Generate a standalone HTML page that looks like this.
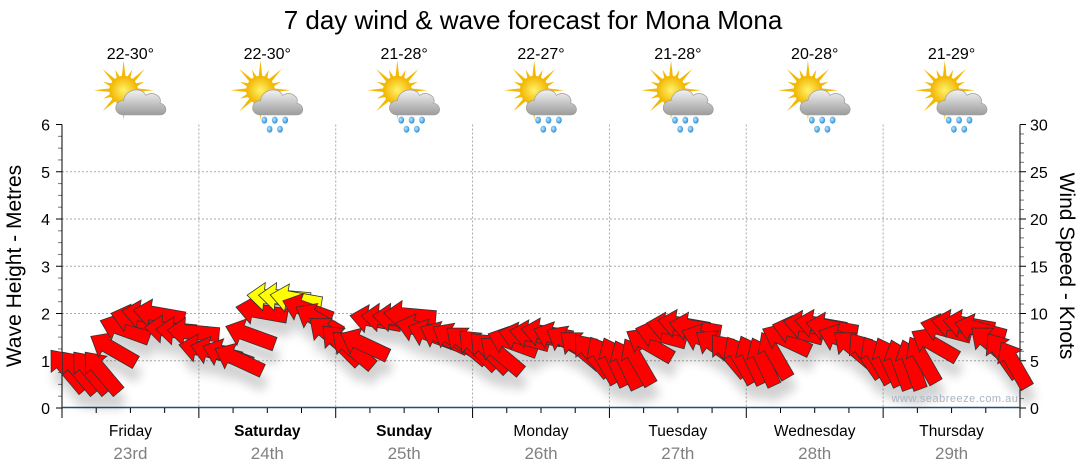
<!DOCTYPE html>
<html><head><meta charset="utf-8"><style>
body{margin:0;background:#fff;width:1080px;height:475px;overflow:hidden;font-family:"Liberation Sans","DejaVu Sans",sans-serif}
svg{display:block}
</style></head><body>
<svg id="chart" width="1080" height="475" viewBox="0 0 1080 475" xmlns="http://www.w3.org/2000/svg">
<defs>
<filter id="sh" x="-50%" y="-50%" width="200%" height="250%"><feGaussianBlur in="SourceAlpha" stdDeviation="5"/><feOffset dx="3" dy="14"/><feComponentTransfer><feFuncA type="linear" slope="0.18"/></feComponentTransfer><feMerge><feMergeNode/><feMergeNode in="SourceGraphic"/></feMerge></filter>
<radialGradient id="sun" cx="50%" cy="50%" r="50%"><stop offset="0" stop-color="#fff36a"/><stop offset="1" stop-color="#f2b400"/></radialGradient>
<linearGradient id="cloud" x1="0" y1="0" x2="0" y2="1"><stop offset="0" stop-color="#f2f2f2"/><stop offset="1" stop-color="#9c9c9c"/></linearGradient>
<radialGradient id="drop" cx="40%" cy="40%" r="60%"><stop offset="0" stop-color="#bfe8ff"/><stop offset="1" stop-color="#2c8fd6"/></radialGradient>
</defs>
<text x="533" y="29" font-size="26" text-anchor="middle" fill="#000">7 day wind &amp; wave forecast for Mona Mona</text>
<g id="grid"></g>
<g id="axes"></g>
<g id="icons"></g>
<g id="arrows" filter="url(#sh)"></g>
<text x="955" y="402" font-size="11" text-anchor="middle" fill="#a8b4c4" letter-spacing="0.5">www.seabreeze.com.au</text>
<text transform="translate(21,266) rotate(-90)" font-size="21" text-anchor="middle">Wave Height - Metres</text>
<text transform="translate(1060,266) rotate(90)" font-size="21" text-anchor="middle">Wind Speed - Knots</text>
</svg>
<script>
const days=["Friday","Saturday","Sunday","Monday","Tuesday","Wednesday","Thursday"];
const dates=["23rd","24th","25th","26th","27th","28th","29th"];
const boldDays=[false,true,true,false,false,false,false];
const temps=["22-30°","22-30°","21-28°","22-27°","21-28°","20-28°","21-29°"];
const rainIcon=[false,true,true,true,true,true,true];
const leftTicks=[0,1,2,3,4,5,6];
const rightTicks=[0,5,10,15,20,25,30];
// wind speed knots, every 2 hours
const windSpeed=[
4.0,3.8,3.8,3.8,6.2,8.3,9.3,9.8,9.9,8.3,8.1,8.0,
6.2,5.9,5.6,5.1,7.7,10.2,11.7,11.7,11.5,10.4,9.3,7.7,
6.7,6.2,6.7,9.3,9.5,9.5,9.8,8.3,7.7,7.4,7.2,6.7,
6.2,5.9,5.6,6.9,7.4,7.7,7.9,7.4,6.9,6.2,5.6,5.1,
4.9,4.6,4.9,6.7,7.7,8.5,8.8,8.5,7.2,6.4,5.6,5.1,
5.1,4.9,5.6,7.2,8.1,8.7,8.8,8.5,7.2,6.2,5.6,5.1,
4.9,4.6,4.6,5.1,6.7,8.3,8.8,8.8,8.3,6.7,5.6,4.6];
// direction wind is coming from (compass degrees)
const windDir=[
140,140,140,140,120,110,105,100,100,95,95,95,
100,105,110,115,110,100,95,95,100,110,120,130,
135,130,115,100,95,95,95,105,110,115,120,130,
135,135,130,110,105,100,100,110,120,130,140,150,
155,155,150,120,105,100,100,100,110,125,140,150,
155,155,150,115,105,100,100,100,110,130,145,150,
155,160,160,150,120,105,100,100,105,130,145,150];
const x0=62,x1=1020,yTop=124.5,yBot=408;
const dayW=(x1-x0)/7;
const yM=v=>yBot-(v/6)*(yBot-yTop);
const yK=v=>yBot-(v/30)*(yBot-yTop);
const xH=h=>x0+(h/168)*(x1-x0);
const NS="http://www.w3.org/2000/svg";
function mk(t,a,p){const e=document.createElementNS(NS,t);for(const k in a)e.setAttribute(k,a[k]);p.appendChild(e);return e;}
const grid=document.getElementById('grid'),axes=document.getElementById('axes'),icons=document.getElementById('icons'),arrows=document.getElementById('arrows');
leftTicks.forEach(v=>{if(v>0&&v<6){const l=mk('line',{x1:x0,x2:x1,y1:yM(v),y2:yM(v),stroke:'#aaa','stroke-dasharray':'2,2'},grid);}
 const t=mk('text',{x:50,y:yM(v)+6,'font-size':16,'text-anchor':'end'},axes);t.textContent=v;});
for(let v=0;v<=6.001;v+=0.25){mk('line',{x1:x0-(v%1===0?6:4),x2:x0,y1:yM(v),y2:yM(v),stroke:v%1===0?'#000':'#777'},axes);}
rightTicks.forEach(v=>{const t=mk('text',{x:1030,y:yK(v)+6,'font-size':16},axes);t.textContent=v;});
for(let v=0;v<=30;v++){mk('line',{x1:x1,x2:x1+(v%5===0?6:4),y1:yK(v),y2:yK(v),stroke:v%5===0?'#000':'#777'},axes);}
for(let d=1;d<7;d++){const l=mk('line',{x1:x0+d*dayW,x2:x0+d*dayW,y1:yTop,y2:yBot,stroke:'#aaa','stroke-dasharray':'2,2'},grid);}
mk('line',{x1:x0,x2:x0,y1:yTop,y2:yBot+10,stroke:'#000'},axes);
mk('line',{x1:x1,x2:x1,y1:yTop,y2:yBot,stroke:'#000'},axes);
mk('line',{x1:x0,x2:x1,y1:yBot-0.5,y2:yBot-0.5,stroke:'#1f4e79','stroke-width':1.5},axes);
for(let h=0;h<=168;h+=6){const big=h%24===0;mk('line',{x1:xH(h),x2:xH(h),y1:yBot,y2:yBot+(big?10:5),stroke:'#000'},axes);}
days.forEach((d,i)=>{const cx=x0+(i+0.5)*dayW;
 const t=mk('text',{x:cx,y:436,'font-size':15.5,'text-anchor':'middle','font-weight':boldDays[i]?'bold':'normal'},axes);t.textContent=d;
 const t2=mk('text',{x:cx,y:459,'font-size':17,'text-anchor':'middle',fill:'#808080'},axes);t2.textContent=dates[i];
 const t3=mk('text',{x:cx,y:59,'font-size':16,'text-anchor':'middle'},icons);t3.textContent=temps[i];
 const g=mk('g',{transform:`translate(${cx+1},98) scale(1.3)`},icons);
 let rays='';for(let k=0;k<16;k++){const a=k*Math.PI/8,r=k%2?17:23;const ax=-6+Math.cos(a)*r,ay=-6+Math.sin(a)*r;const b1=a+0.18,b2=a-0.18;rays+=`M${-6+Math.cos(b1)*9},${-6+Math.sin(b1)*9}L${ax},${ay}L${-6+Math.cos(b2)*9},${-6+Math.sin(b2)*9}Z`;}
 mk('path',{d:rays,fill:'#f5b800'},g);
 mk('circle',{cx:-6,cy:-6,r:11,fill:'url(#sun)'},g);
 mk('path',{d:'M-6,13 C-14,13 -14,2 -6,2 C-5,-7 8,-9 11,-2 C17,-6 24,-1 22,4 C28,5 28,13 22,13 Z',fill:'url(#cloud)',stroke:'#999','stroke-width':0.5},g);
 if(rainIcon[i]){[[-3,17],[5,17],[13,17],[1,24],[9,24]].forEach(p=>mk('ellipse',{cx:p[0],cy:p[1],rx:2.2,ry:2.7,fill:'url(#drop)'},g));}
});
// arrows
windSpeed.forEach((v,i)=>{const cx=xH(i*2+1),cy=yK(v);
 const ang=windDir[i]+90;
 const col=v>=11.5?'#ffff00':'#ff0000';
 const p=mk('path',{d:'M-26,0 L-9,-14 L-9,-7 L26,-7 L26,7 L-9,7 L-9,14 Z',fill:col,stroke:'#333','stroke-width':0.8,transform:`translate(${cx},${cy}) rotate(${ang-180})`},arrows);
 
 
});
</script>
</body></html>
